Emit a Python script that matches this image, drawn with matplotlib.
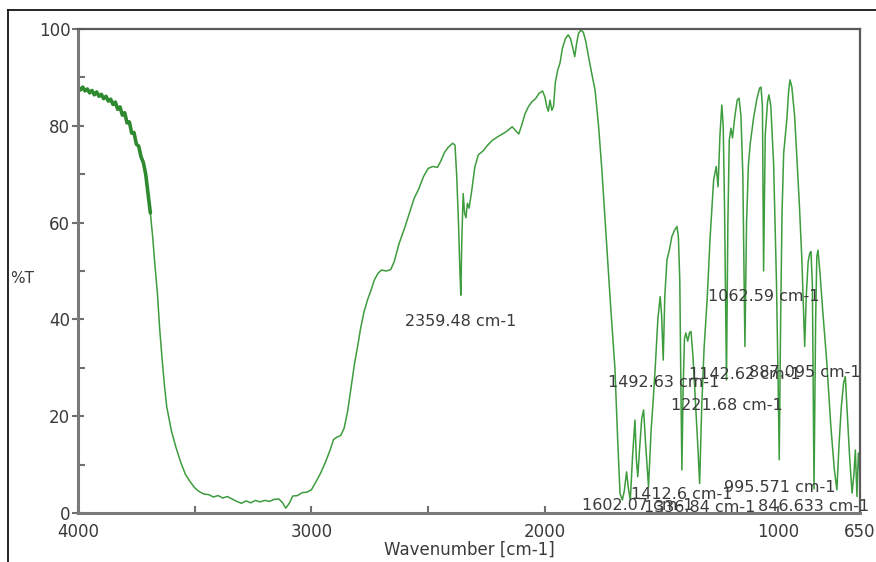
import numpy as np
import matplotlib
matplotlib.use("Agg")
import matplotlib.pyplot as plt
from matplotlib.ticker import FixedLocator, MultipleLocator
from matplotlib.lines import Line2D

plt.rcParams['font.family'] = ['DejaVu Sans']

# --- spectrum (wavenumber [cm-1], %T) ---
wavenumber = [
    4000, 3990, 3980, 3970, 3960, 3950, 3940, 3930, 3920, 3910, 3900, 3890, 3880, 3870,
    3860, 3850, 3840, 3830, 3820, 3810, 3800, 3790, 3780, 3770, 3760, 3750, 3740, 3730,
    3720, 3710, 3700, 3690, 3680, 3670, 3660, 3650, 3640, 3630, 3620, 3600, 3580, 3560,
    3540, 3520, 3500, 3480, 3460, 3440, 3420, 3400, 3380, 3360, 3340, 3320, 3300, 3280,
    3260, 3240, 3220, 3200, 3180, 3160, 3140, 3125, 3110, 3095, 3080, 3060, 3040, 3020,
    3000, 2980, 2960, 2940, 2920, 2905, 2890, 2875, 2860, 2845, 2830, 2815, 2800, 2790,
    2775, 2760, 2745, 2730, 2715, 2700, 2680, 2660, 2645, 2625, 2600, 2580, 2560, 2540,
    2520, 2500, 2480, 2460, 2445, 2430, 2415, 2395, 2385, 2378, 2370, 2364, 2360, 2356,
    2350, 2344, 2338, 2332, 2325, 2315, 2300, 2285, 2265, 2245, 2225, 2200, 2175, 2160,
    2140, 2125, 2112, 2100, 2085, 2070, 2055, 2040, 2025, 2010, 2000, 1992, 1985, 1978,
    1970, 1963, 1955, 1945, 1935, 1925, 1912, 1900, 1890, 1880, 1872, 1864, 1856, 1845,
    1835, 1825, 1813, 1800, 1785, 1770, 1756, 1740, 1720, 1700, 1688, 1678, 1668, 1660,
    1650, 1642, 1634, 1624, 1614, 1608, 1602, 1596, 1585, 1577, 1568, 1556, 1545, 1535,
    1527, 1516, 1506, 1500, 1493, 1486, 1477, 1466, 1456, 1444, 1434, 1428, 1422, 1417,
    1413, 1408, 1402, 1396, 1388, 1380, 1374, 1365, 1355, 1345, 1337, 1328, 1318, 1305,
    1292, 1277, 1266, 1258, 1250, 1242, 1236, 1230, 1222, 1216, 1210, 1203, 1196, 1186,
    1176, 1168, 1160, 1152, 1143, 1136, 1128, 1120, 1106, 1092, 1080, 1074, 1068, 1063,
    1056, 1046, 1040, 1032, 1020, 1008, 1000, 996, 990, 984, 977, 963, 956, 950,
    942, 930, 920, 910, 899, 892, 887, 880, 872, 865, 860, 854, 847, 840,
    835, 830, 822, 810, 793, 775, 760, 749, 740, 730, 720, 713, 706, 695,
    684, 676, 670, 663, 657, 650,
]
transmittance = [
    88.0, 87.4, 88.0, 87.2, 87.6, 86.8, 87.3, 86.4, 87.0, 86.1, 86.5, 85.6, 86.1, 85.1,
    85.5, 84.4, 84.9, 83.4, 83.9, 82.2, 82.7, 80.6, 80.8, 78.5, 78.6, 76.2, 75.8, 73.6,
    72.4, 70.0, 66.0, 62.0, 57.0, 51.0, 45.5, 38.0, 32.0, 26.5, 22.0, 17.0, 13.5, 10.5,
    8.0, 6.5, 5.2, 4.4, 3.9, 3.8, 3.3, 3.6, 3.1, 3.4, 2.9, 2.4, 2.0, 2.5,
    2.1, 2.6, 2.3, 2.6, 2.4, 2.8, 2.9, 2.2, 1.0, 2.0, 3.5, 3.6, 4.2, 4.3,
    4.8, 6.5, 8.3, 10.5, 13.0, 15.2, 15.7, 16.0, 17.5, 21.0, 26.0, 31.0, 35.0, 38.0,
    41.5, 44.0, 46.0, 48.2, 49.5, 50.2, 50.0, 50.3, 52.0, 55.6, 59.0, 62.0, 65.0, 67.0,
    69.5, 71.2, 71.6, 71.4, 72.8, 74.5, 75.5, 76.4, 76.0, 70.0, 60.0, 50.0, 45.0, 56.0,
    66.0, 62.0, 61.0, 64.0, 63.0, 66.0, 71.5, 74.0, 74.8, 76.0, 77.0, 77.8, 78.5, 79.0,
    79.8, 79.0, 78.3, 80.0, 82.5, 84.0, 85.0, 85.6, 86.7, 87.2, 86.0, 84.0, 83.0, 85.3,
    83.2, 84.0, 89.0, 91.5, 93.0, 96.0, 98.0, 98.8, 98.0, 96.0, 94.3, 97.0, 99.1, 99.8,
    99.3, 97.5, 94.3, 91.0, 87.4, 80.0, 71.0, 59.0, 44.0, 30.0, 15.0, 4.0, 2.7, 4.5,
    8.5, 5.0, 2.7, 12.0, 19.2, 11.0, 7.5, 12.0, 19.5, 21.3, 14.0, 5.4, 17.0, 24.0,
    30.2, 40.0, 44.7, 41.0, 31.6, 45.0, 52.3, 54.5, 57.1, 58.5, 59.2, 57.0, 48.0, 25.0,
    8.9, 25.0, 36.0, 37.2, 35.5, 37.3, 37.5, 32.0, 23.0, 14.0, 6.1, 22.0, 34.0, 44.0,
    57.0, 68.8, 71.6, 67.4, 78.0, 84.3, 80.0, 62.0, 27.5, 60.0, 77.0, 79.5, 77.5, 82.0,
    85.3, 85.7, 82.0, 70.0, 34.4, 60.0, 72.0, 76.4, 81.6, 85.5, 87.8, 88.0, 84.0, 50.0,
    78.0, 85.0, 86.4, 84.0, 72.0, 48.0, 25.0, 11.0, 40.0, 62.0, 74.3, 81.6, 87.0, 89.5,
    88.0, 82.0, 73.0, 64.0, 52.3, 42.0, 34.4, 45.0, 52.0, 53.7, 54.0, 47.0, 5.0, 40.0,
    53.0, 54.3, 50.0, 42.0, 31.6, 18.0, 9.0, 4.8, 14.0, 22.0, 27.0, 28.2, 22.0, 12.0,
    4.1, 8.0, 13.0, 3.4, 12.4, 8.0,
]

# peak labels: position of the peak and height of the label
peak_wn = [2359.48, 1602.07, 1492.63, 1412.6, 1336.84, 1221.68, 1142.62, 1062.59,
           995.571, 887.095, 846.633]
peak_text = ["2359.48 cm-1", "1602.07 cm-1", "1492.63 cm-1", "1412.6 cm-1",
             "1336.84 cm-1", "1221.68 cm-1", "1142.62 cm-1", "1062.59 cm-1",
             "995.571 cm-1", "887.095 cm-1", "846.633 cm-1"]
label_T = [39.5, 1.6, 26.9, 3.9, 1.2, 22.3, 28.7, 44.8, 5.2, 29.1, 1.4]

x_ticks = [4000, 3000, 2000, 1000, 650]

W, H = 876, 562
fig = plt.figure(figsize=(W / 100, H / 100), dpi=100)
ax = fig.add_axes([78 / W, 1 - 513 / H, (860 - 78) / W, (513 - 29) / H])

ax.plot(wavenumber, transmittance, color="#3d9c3d", lw=1.1)
# the noisy start of the scan is drawn as a heavier band
n_noisy = wavenumber.index(3690) + 1
ax.plot(wavenumber[:n_noisy], transmittance[:n_noisy], color="#2f8a2f", lw=2.6,
        solid_capstyle="round")

txt_col = "#3a3a3a"
for wn, s, t in zip(peak_wn, peak_text, label_T):
    ax.text(wn, t, s, ha="center", va="center", fontsize=11.5, color=txt_col)

ax.set_xlim(4000, 650)
ax.set_ylim(0, 100)
ax.xaxis.set_major_locator(FixedLocator(x_ticks))
ax.xaxis.set_minor_locator(FixedLocator([3500, 2500, 1500]))
ax.set_xticklabels([str(v) for v in x_ticks])
ax.yaxis.set_major_locator(MultipleLocator(20))
ax.yaxis.set_minor_locator(MultipleLocator(10))

ax.tick_params(axis="x", which="both", direction="in", length=5, width=1.5,
               colors="#707070", labelcolor=txt_col, labelsize=12, pad=7)
ax.tick_params(axis="y", which="major", direction="inout", length=9, width=1.5,
               colors="#707070", labelcolor=txt_col, labelsize=12, pad=1)
ax.tick_params(axis="y", which="minor", direction="in", length=5, width=1.5,
               colors="#707070")

for side in ["left", "bottom"]:
    ax.spines[side].set_color("#7a7a7a")
    ax.spines[side].set_linewidth(2.2)
for side in ["top", "right"]:
    ax.spines[side].set_color("#5a5a5a")
    ax.spines[side].set_linewidth(1.6)

ax.set_xlabel("Wavenumber [cm-1]", fontsize=12, color=txt_col, labelpad=0)
fig.text(10 / W, 1 - 278 / H, "%T", fontsize=11, color=txt_col, ha="left", va="center")

# outer frame of the picture (left and top edges)
fig.add_artist(Line2D([8 / W, 8 / W], [0, 1 - 10 / H], color="black", lw=1.2))
fig.add_artist(Line2D([8 / W, 1], [1 - 10 / H, 1 - 10 / H], color="black", lw=1.2))

fig.savefig("out.png", dpi=100)
